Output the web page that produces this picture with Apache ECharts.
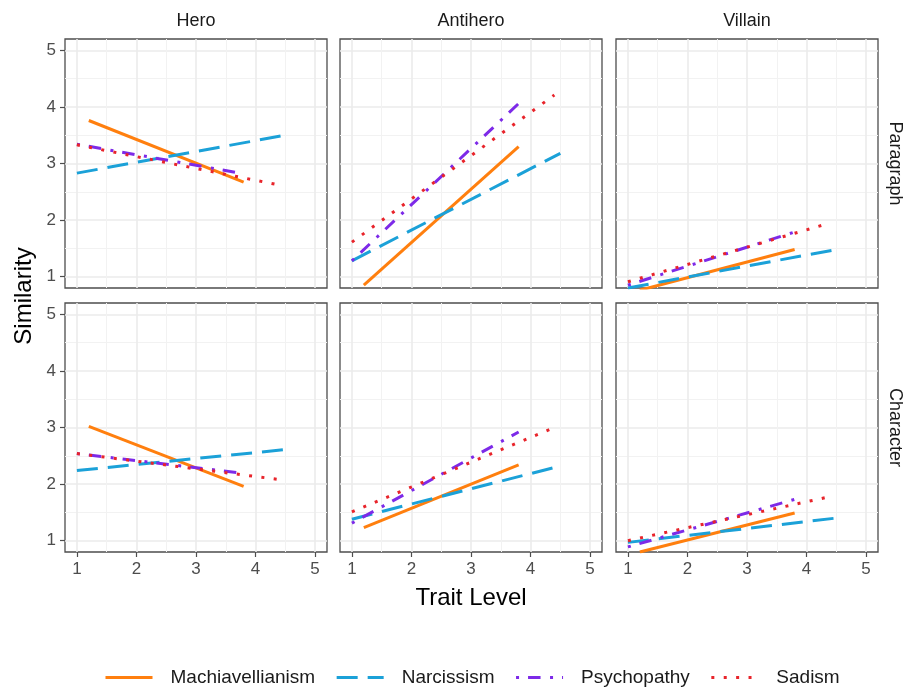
<!DOCTYPE html>
<html>
<head>
<meta charset="utf-8">
<script src="https://cdn.jsdelivr.net/npm/echarts@6/dist/echarts.min.js"></script>
<style>
html, body { margin: 0; padding: 0; background: #fff; }
#chart { width: 907px; height: 687px; }
</style>
</head>
<body>
<div id="chart"></div>
<script>
// facets
var roles = ['Hero', 'Antihero', 'Villain'];
var formats = ['Paragraph', 'Character'];
var traits = ['Machiavellianism', 'Narcissism', 'Psychopathy', 'Sadism'];
var majorTicks = [1, 2, 3, 4, 5];
var minorTicks = [1.5, 2.5, 3.5, 4.5];

// trait level range covered by each line
var machX = [1.2, 3.8];
var narcX = [1.0, 4.5];
var psycX = [1.0, 3.8];
var sadX = [1.0, 4.4];

// similarity at start / end of range, panels in order:
// Hero-Paragraph, Antihero-Paragraph, Villain-Paragraph, Hero-Character, Antihero-Character, Villain-Character
var machY = [[3.76, 2.67], [0.85, 3.30], [0.76, 1.48], [3.02, 1.96], [1.23, 2.34], [0.80, 1.49]];
var narcY = [[2.83, 3.50], [1.28, 3.18], [0.80, 1.48], [2.24, 2.61], [1.38, 2.32], [0.97, 1.40]];
var psycY = [[3.34, 2.82], [1.28, 4.06], [0.85, 1.79], [2.54, 2.19], [1.31, 2.92], [0.89, 1.73]];
var sadY = [[3.33, 2.62], [1.61, 4.21], [0.91, 1.95], [2.54, 2.08], [1.51, 3.00], [1.00, 1.78]];

var myChart = echarts.init(document.getElementById('chart'));

var lineLook = [
    {color: '#FF7F0E', type: 'solid'},
    {color: '#1BA1D8', type: [21, 10]},
    {color: '#7D2AE8', type: [3, 9, 12.5, 9.5]},
    {color: '#E8242B', type: [3, 9.4]}
];
var xRanges = [machX, narcX, psycX, sadX];
var yPairs = [machY, narcY, psycY, sadY];

var gridLeft = [65, 340, 616];
var gridTop = [39, 303];
var gridW = 262, gridH = 249;

var grids = [], xAxes = [], yAxes = [], series = [];
var minorX = [], minorY = [];

for (var r = 0; r < 2; r++) {
    for (var c = 0; c < 3; c++) {
        var p = r * 3 + c;
        grids.push({
            left: gridLeft[c], top: gridTop[r], width: gridW, height: gridH,
            show: true, borderColor: '#4D4D4D', borderWidth: 1.3, backgroundColor: '#fff'
        });
        xAxes.push({
            type: 'value', gridIndex: p, min: 0.8, max: 5.2, position: 'bottom',
            axisLine: {show: false},
            axisTick: {show: r === 1, length: 5, customValues: majorTicks, lineStyle: {color: '#4D4D4D', width: 1.2}},
            axisLabel: {show: r === 1, customValues: majorTicks, fontSize: 17, color: '#4D4D4D', margin: 9, fontFamily: 'Liberation Sans'},
            splitLine: {show: true, lineStyle: {color: '#EBEBEB', width: 1.6}}
        });
        yAxes.push({
            type: 'value', gridIndex: p, min: 0.8, max: 5.2, position: 'left',
            axisLine: {show: false},
            axisTick: {show: c === 0, length: 5, customValues: majorTicks, lineStyle: {color: '#4D4D4D', width: 1.2}},
            axisLabel: {show: c === 0, customValues: majorTicks, fontSize: 17, color: '#4D4D4D', margin: 9, fontFamily: 'Liberation Sans'},
            splitLine: {show: true, lineStyle: {color: '#EBEBEB', width: 1.6}}
        });
        minorX.push({
            type: 'value', gridIndex: p, min: 0.8, max: 5.2, position: 'top',
            axisLine: {show: false}, axisLabel: {show: false},
            axisTick: {show: false, customValues: minorTicks},
            splitLine: {show: true, lineStyle: {color: '#F2F2F2', width: 1}}
        });
        minorY.push({
            type: 'value', gridIndex: p, min: 0.8, max: 5.2, position: 'right',
            axisLine: {show: false}, axisLabel: {show: false},
            axisTick: {show: false, customValues: minorTicks},
            splitLine: {show: true, lineStyle: {color: '#F2F2F2', width: 1}}
        });
        for (var t = 0; t < traits.length; t++) {
            series.push({
                name: traits[t],
                type: 'line',
                xAxisIndex: p,
                yAxisIndex: p,
                symbol: 'none',
                silent: true,
                clip: true,
                z: 3 + t,
                color: lineLook[t].color,
                lineStyle: {color: lineLook[t].color, width: 3, type: lineLook[t].type, cap: 'butt'},
                data: [[xRanges[t][0], yPairs[t][p][0]], [xRanges[t][1], yPairs[t][p][1]]]
            });
        }
    }
}

var graphics = [];
for (var c2 = 0; c2 < 3; c2++) {
    graphics.push({
        type: 'text', x: gridLeft[c2] + gridW / 2, y: 21,
        style: {text: roles[c2], font: '18px "Liberation Sans"', fill: '#1A1A1A', align: 'center', verticalAlign: 'middle'}
    });
}
for (var r2 = 0; r2 < 2; r2++) {
    graphics.push({
        type: 'text', x: 895, y: gridTop[r2] + gridH / 2, rotation: -Math.PI / 2,
        style: {text: formats[r2], font: '18px "Liberation Sans"', fill: '#1A1A1A', align: 'center', verticalAlign: 'middle'}
    });
}
graphics.push({
    type: 'text', x: 24, y: 296, rotation: Math.PI / 2,
    style: {text: 'Similarity', font: '24px "Liberation Sans"', fill: '#000', align: 'center', verticalAlign: 'middle'}
});
graphics.push({
    type: 'text', x: 471, y: 598,
    style: {text: 'Trait Level', font: '24px "Liberation Sans"', fill: '#000', align: 'center', verticalAlign: 'middle'}
});

option = {
    backgroundColor: '#fff',
    animation: false,
    grid: grids,
    xAxis: xAxes.concat(minorX),
    yAxis: yAxes.concat(minorY),
    legend: {
        data: traits,
        left: 99,
        top: 663,
        itemWidth: 47,
        itemHeight: 14,
        itemGap: 20,
        selectedMode: false,
        lineStyle: {width: 3},
        itemStyle: {color: 'rgba(0,0,0,0)', borderWidth: 0, opacity: 0},
        textStyle: {fontSize: 19, color: '#1A1A1A', fontFamily: 'Liberation Sans', padding: [0, 0, 0, 13]}
    },
    graphic: graphics,
    series: series
};
myChart.setOption(option);
</script>
</body>
</html>
